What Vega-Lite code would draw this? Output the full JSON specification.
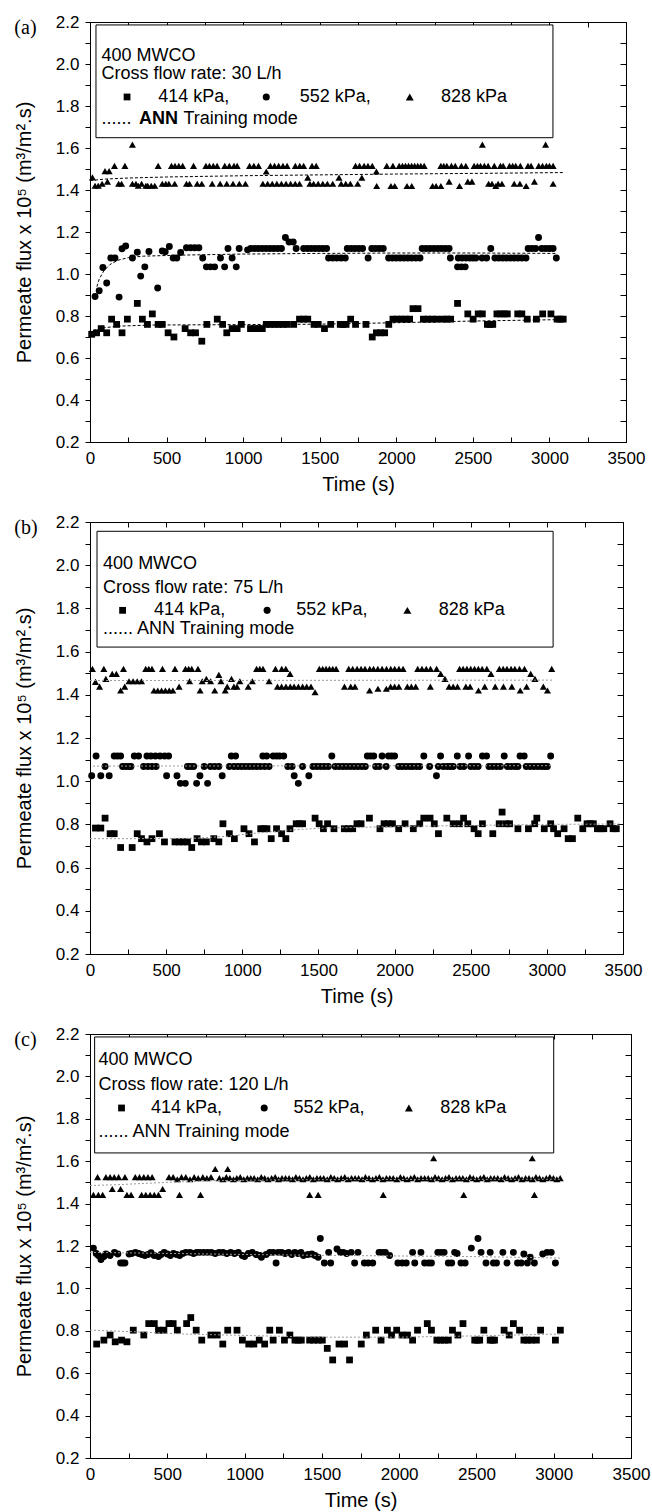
{
"$schema":"https://vega.github.io/schema/vega-lite/v6.json",
"background":"white",
"padding":{"left":13,"top":12,"right":0,"bottom":0},
"spacing":17,
"columns":1,
"align":"none",
"config":{
 "view":{"stroke":"black","strokeWidth":1},
 "axis":{"grid":false,"domainColor":"black","domainWidth":1,"tickColor":"black","tickWidth":1,"labelColor":"black","titleColor":"black","labelFont":"Liberation Sans","titleFont":"Liberation Sans","labelFontSize":17,"titleFontSize":20,"titleFontWeight":"normal","labelFlush":false,"labelOverlap":false},
 "title":{"font":"Liberation Serif","fontSize":20,"fontWeight":"normal","color":"black"},
 "text":{"font":"Liberation Sans","fontSize":18,"color":"black"}
},
"datasets":{
 "aPts":[
  {"s":"414","t":[11,43,73,109,141,174,209,244,309,342,375,407,445,472,510,548,621,657,689,730,763,831,866,893,928,961,988,1048,1075,1100,1125,1151,1178,1205,1232,1260,1287,1330,1368,1395,1422,1463,1490,1531,1572,1634,1652,1672,1702,1734,1802,1843,1870,1897,1924,1951,1978,2005,2032,2060,2087,2109,2142,2177,2205,2235,2264,2305,2330,2355,2400,2467,2502,2535,2562,2595,2612,2630,2657,2680,2705,2725,2793,2820,2855,2915,2956,3010,3050,3070,3090],
   "v":[0.713,0.72,0.74,0.72,0.785,0.76,0.72,0.785,0.86,0.785,0.76,0.81,0.76,0.76,0.72,0.70,0.74,0.72,0.72,0.68,0.76,0.785,0.76,0.72,0.74,0.74,0.76,0.74,0.74,0.74,0.74,0.76,0.76,0.76,0.76,0.76,0.76,0.76,0.785,0.785,0.785,0.76,0.76,0.74,0.76,0.76,0.76,0.76,0.785,0.76,0.76,0.70,0.72,0.72,0.72,0.76,0.785,0.785,0.785,0.785,0.785,0.835,0.835,0.785,0.785,0.785,0.785,0.785,0.785,0.785,0.86,0.81,0.785,0.81,0.81,0.76,0.76,0.76,0.81,0.81,0.81,0.81,0.81,0.81,0.785,0.785,0.81,0.81,0.785,0.785,0.785]},
  {"s":"552","t":[33,60,84,109,136,163,190,209,233,277,309,331,358,385,442,472,491,518,543,567,592,630,657,684,711,736,760,787,814,852,879,901,928,955,974,1029,1050,1075,1100,1125,1150,1175,1200,1225,1250,1276,1300,1327,1346,1395,1420,1445,1470,1495,1520,1545,1558,1585,1612,1640,1667,1680,1705,1730,1755,1780,1816,1840,1865,1890,1915,1950,1975,2000,2025,2050,2075,2100,2128,2155,2169,2195,2220,2245,2270,2295,2320,2345,2353,2400,2405,2425,2430,2450,2455,2480,2500,2520,2560,2590,2617,2644,2670,2695,2720,2745,2770,2795,2820,2847,2861,2885,2910,2929,2950,2975,3000,3024,3045],
   "v":[0.893,0.92,1.031,0.957,1.076,1.076,0.89,1.12,1.133,1.076,1.104,0.99,1.034,1.107,0.933,1.11,1.106,1.131,1.076,1.076,1.102,1.125,1.125,1.125,1.125,1.076,1.034,1.034,1.034,1.076,1.034,1.121,1.076,1.034,1.121,1.115,1.121,1.121,1.121,1.121,1.121,1.121,1.121,1.121,1.121,1.174,1.152,1.152,1.121,1.121,1.121,1.121,1.121,1.121,1.121,1.121,1.076,1.076,1.076,1.076,1.076,1.121,1.121,1.121,1.121,1.121,1.076,1.121,1.121,1.121,1.121,1.076,1.076,1.076,1.076,1.076,1.076,1.076,1.076,1.076,1.121,1.121,1.121,1.121,1.121,1.121,1.121,1.121,1.076,1.034,1.076,1.034,1.076,1.034,1.076,1.076,1.076,1.076,1.076,1.076,1.121,1.076,1.076,1.076,1.076,1.076,1.076,1.076,1.076,1.076,1.121,1.121,1.121,1.174,1.121,1.121,1.121,1.121,1.076]},
  {"s":"828","t":[16,33,54,79,98,114,125,160,187,206,228,277,277,300,315,337,365,377,400,423,445,472,495,515,532,553,555,580,605,630,650,676,700,730,757,780,798,805,830,850,880,893,910,934,940,961,975,1015,1042,1070,1100,1129,1151,1160,1178,1190,1205,1220,1232,1250,1260,1280,1287,1310,1340,1341,1368,1370,1395,1422,1436,1450,1460,1477,1490,1520,1550,1585,1626,1640,1670,1700,1734,1748,1760,1775,1790,1815,1843,1870,1872,1938,1965,1978,1990,2019,2040,2060,2070,2080,2100,2101,2120,2140,2160,2182,2237,2260,2291,2291,2310,2330,2345,2360,2385,2413,2425,2454,2467,2494,2508,2530,2550,2562,2575,2600,2603,2625,2640,2650,2665,2680,2690,2698,2739,2760,2770,2780,2807,2810,2848,2860,2880,2902,2930,2955,2975,2980,3000,3024,3024],
   "v":[1.46,1.42,1.42,1.43,1.49,1.44,1.49,1.515,1.43,1.43,1.515,1.616,1.43,1.43,1.42,1.43,1.42,1.42,1.42,1.42,1.515,1.43,1.43,1.43,1.515,1.43,1.515,1.515,1.515,1.43,1.43,1.515,1.43,1.43,1.515,1.515,1.43,1.515,1.515,1.43,1.515,1.43,1.515,1.43,1.515,1.515,1.43,1.43,1.515,1.515,1.515,1.43,1.488,1.43,1.515,1.43,1.515,1.43,1.515,1.43,1.515,1.43,1.515,1.43,1.43,1.515,1.43,1.515,1.515,1.459,1.43,1.515,1.43,1.515,1.43,1.43,1.43,1.43,1.459,1.43,1.43,1.43,1.515,1.43,1.515,1.459,1.515,1.515,1.515,1.488,1.419,1.515,1.419,1.515,1.419,1.515,1.515,1.515,1.419,1.515,1.515,1.419,1.515,1.515,1.515,1.515,1.419,1.419,1.419,1.515,1.515,1.515,1.44,1.515,1.515,1.419,1.515,1.515,1.44,1.44,1.515,1.515,1.515,1.616,1.515,1.515,1.43,1.43,1.515,1.419,1.43,1.515,1.43,1.515,1.515,1.515,1.43,1.515,1.43,1.515,1.419,1.515,1.515,1.44,1.515,1.515,1.616,1.515,1.515,1.515,1.43]}
 ],
 "aAnn":[
  {"s":"414","t":[20,100,200,400,1000,1500,2000,2500,3090],"v":[0.73,0.745,0.752,0.757,0.759,0.761,0.768,0.776,0.783]},
  {"s":"552","t":[45,60,90,130,180,250,350,600,1000,1500,2000,2500,3050],"v":[0.94,0.975,1.015,1.045,1.065,1.078,1.085,1.09,1.095,1.098,1.1,1.1,1.098]},
  {"s":"828","t":[0,100,250,500,1000,1500,2000,2500,3090],"v":[1.445,1.452,1.457,1.462,1.468,1.472,1.476,1.479,1.483]}
 ],
 "bPts":[
  {"s":"414","t":[36,71,99,132,159,201,277,310,338,374,407,456,489,558,585,612,640,668,703,731,764,813,846,873,915,948,1011,1044,1080,1121,1142,1162,1190,1225,1258,1286,1313,1354,1375,1396,1478,1505,1533,1560,1602,1670,1697,1725,1753,1780,1835,1904,1931,1958,1986,2027,2069,2123,2165,2192,2233,2261,2288,2343,2385,2426,2453,2481,2522,2549,2577,2645,2687,2706,2730,2755,2810,2879,2920,2934,2983,3025,3044,3071,3113,3140,3168,3203,3236,3264,3285,3305,3332,3353,3374,3415,3435,3456],
   "v":[0.783,0.783,0.829,0.757,0.757,0.693,0.693,0.757,0.734,0.719,0.734,0.757,0.719,0.719,0.719,0.719,0.719,0.693,0.734,0.719,0.719,0.734,0.719,0.803,0.757,0.734,0.78,0.757,0.719,0.78,0.78,0.78,0.734,0.78,0.757,0.734,0.78,0.803,0.803,0.803,0.829,0.803,0.78,0.803,0.78,0.78,0.78,0.78,0.803,0.803,0.829,0.78,0.803,0.803,0.803,0.78,0.803,0.78,0.803,0.829,0.829,0.803,0.757,0.829,0.803,0.803,0.829,0.803,0.78,0.757,0.803,0.757,0.803,0.857,0.803,0.803,0.78,0.78,0.803,0.829,0.78,0.803,0.78,0.757,0.78,0.734,0.734,0.829,0.78,0.803,0.803,0.803,0.78,0.78,0.78,0.803,0.78,0.78]},
  {"s":"552","t":[11,40,71,99,126,159,180,201,214,235,255,269,291,319,352,374,380,400,407,430,434,460,490,503,516,571,593,626,640,660,681,700,722,750,772,791,818,846,868,915,928,945,956,970,995,1020,1045,1070,1095,1120,1135,1148,1160,1176,1203,1225,1245,1272,1299,1327,1341,1368,1396,1437,1464,1490,1515,1540,1565,1588,1610,1635,1660,1685,1710,1735,1760,1785,1808,1821,1842,1863,1876,1900,1918,1945,1960,1980,2000,2027,2050,2075,2100,2120,2145,2165,2192,2230,2275,2288,2302,2320,2345,2365,2385,2412,2430,2455,2486,2500,2525,2549,2577,2604,2620,2645,2670,2695,2720,2741,2765,2790,2810,2824,2851,2865,2890,2915,2940,2965,2985,3003,3025],
   "v":[1.025,1.117,1.025,1.068,1.025,1.117,1.117,1.117,1.068,1.068,1.068,1.068,1.117,1.117,1.068,1.117,1.068,1.117,1.068,1.117,1.068,1.117,1.117,1.025,1.117,1.025,0.99,0.99,1.068,1.068,1.068,0.99,1.025,1.068,0.99,1.068,1.068,1.068,1.025,1.068,1.117,1.068,1.117,1.068,1.068,1.068,1.068,1.068,1.068,1.068,1.117,1.068,1.117,1.068,1.117,1.117,1.117,1.117,1.068,1.068,1.025,0.99,1.068,1.025,1.068,1.068,1.068,1.068,1.068,1.117,1.068,1.068,1.068,1.068,1.068,1.068,1.068,1.068,1.068,1.117,1.117,1.117,1.068,1.068,1.117,1.068,1.117,1.117,1.117,1.068,1.068,1.068,1.068,1.068,1.068,1.068,1.117,1.068,1.025,1.068,1.117,1.068,1.068,1.068,1.068,1.117,1.068,1.068,1.117,1.068,1.068,1.068,1.117,1.117,1.068,1.068,1.068,1.068,1.117,1.068,1.068,1.068,1.068,1.117,1.117,1.068,1.068,1.068,1.068,1.068,1.068,1.068,1.117]},
  {"s":"828","t":[16,36,63,91,104,146,173,201,220,228,256,283,310,338,366,386,407,420,445,470,476,495,520,544,558,585,627,648,654,668,709,723,737,764,792,819,846,860,888,901,929,945,965,984,1039,1066,1094,1115,1136,1176,1218,1231,1258,1259,1286,1287,1314,1315,1340,1368,1396,1423,1451,1478,1506,1528,1550,1572,1594,1616,1671,1699,1712,1725,1740,1754,1780,1806,1836,1837,1862,1890,1891,1918,1946,1947,1974,1975,2000,2001,2028,2029,2056,2084,2110,2139,2152,2180,2208,2235,2236,2276,2303,2331,2358,2385,2413,2427,2450,2468,2475,2496,2500,2525,2550,2551,2575,2592,2606,2633,2661,2688,2713,2715,2738,2765,2770,2790,2820,2825,2853,2867,2894,2922,2977,3004,3032],
   "v":[1.52,1.46,1.438,1.52,1.474,1.497,1.497,1.42,1.52,1.438,1.463,1.463,1.463,1.463,1.52,1.52,1.52,1.42,1.42,1.42,1.52,1.42,1.42,1.42,1.52,1.438,1.52,1.52,1.463,1.52,1.52,1.42,1.463,1.474,1.463,1.42,1.492,1.463,1.42,1.438,1.474,1.438,1.438,1.463,1.438,1.463,1.52,1.52,1.52,1.463,1.52,1.438,1.438,1.52,1.52,1.438,1.497,1.438,1.438,1.438,1.438,1.438,1.438,1.412,1.52,1.52,1.52,1.52,1.52,1.52,1.438,1.52,1.438,1.52,1.438,1.52,1.52,1.52,1.42,1.52,1.52,1.52,1.428,1.52,1.428,1.52,1.438,1.52,1.438,1.52,1.438,1.52,1.52,1.438,1.438,1.438,1.52,1.52,1.52,1.438,1.52,1.52,1.497,1.474,1.438,1.438,1.438,1.52,1.52,1.438,1.52,1.438,1.52,1.52,1.52,1.42,1.52,1.438,1.52,1.497,1.438,1.52,1.52,1.438,1.52,1.52,1.438,1.52,1.52,1.42,1.52,1.438,1.497,1.474,1.438,1.42,1.52]}
 ],
 "bAnn":[
  {"s":"414","t":[0,300,700,900,1100,1300,1500,2000,2500,3000,3480],"v":[0.734,0.734,0.736,0.745,0.76,0.773,0.782,0.79,0.795,0.8,0.802]},
  {"s":"552","t":[20,3030],"v":[1.07,1.072]},
  {"s":"828","t":[0,3040],"v":[1.466,1.468]}
 ],
 "cPts":[
  {"s":"414","t":[43,90,130,163,204,239,280,348,380,416,443,478,511,538,565,625,652,687,723,782,823,859,891,951,986,1027,1060,1095,1130,1163,1185,1225,1258,1293,1326,1346,1367,1421,1448,1476,1503,1535,1570,1611,1647,1679,1755,1788,1848,1883,1924,1951,1984,2019,2054,2087,2119,2182,2209,2244,2268,2293,2318,2345,2380,2413,2489,2505,2521,2548,2589,2603,2617,2679,2712,2739,2779,2807,2830,2855,2888,2915,3011,3043],
   "v":[0.7375,0.756,0.78,0.748,0.756,0.748,0.803,0.78,0.834,0.834,0.803,0.803,0.834,0.834,0.803,0.834,0.8625,0.803,0.756,0.78,0.78,0.7375,0.803,0.803,0.756,0.7375,0.7375,0.756,0.7375,0.803,0.756,0.803,0.756,0.78,0.756,0.756,0.756,0.756,0.756,0.756,0.756,0.717,0.6625,0.7375,0.7375,0.6625,0.7375,0.78,0.803,0.756,0.803,0.78,0.803,0.78,0.78,0.756,0.803,0.834,0.803,0.756,0.756,0.756,0.756,0.803,0.78,0.834,0.756,0.756,0.756,0.803,0.756,0.756,0.756,0.803,0.78,0.834,0.803,0.756,0.756,0.756,0.756,0.803,0.756,0.803]},
  {"s":"552","t":[22,40,54,71,90,103,130,158,180,198,212,226,253,270,294,315,335,355,375,395,415,443,460,480,500,520,540,560,580,600,620,647,670,690,710,735,760,785,810,835,860,885,910,935,960,985,1000,1025,1050,1075,1100,1109,1140,1163,1185,1204,1218,1240,1262,1285,1305,1325,1345,1365,1381,1410,1435,1455,1476,1490,1516,1544,1557,1598,1620,1639,1660,1690,1712,1734,1775,1800,1829,1870,1890,1911,1938,1992,2020,2046,2087,2101,2141,2165,2190,2209,2250,2270,2291,2318,2340,2359,2375,2400,2427,2467,2510,2530,2562,2589,2610,2630,2671,2698,2739,2766,2790,2807,2830,2848,2875,2929,2957,2984,3011],
   "v":[1.19,1.165,1.155,1.136,1.15,1.162,1.155,1.17,1.162,1.12,1.12,1.12,1.162,1.165,1.17,1.165,1.16,1.155,1.16,1.168,1.155,1.15,1.16,1.17,1.162,1.155,1.165,1.16,1.155,1.165,1.17,1.17,1.165,1.17,1.17,1.17,1.17,1.17,1.165,1.17,1.17,1.165,1.17,1.165,1.17,1.155,1.15,1.165,1.17,1.16,1.155,1.147,1.16,1.17,1.17,1.12,1.17,1.17,1.165,1.17,1.16,1.17,1.165,1.17,1.155,1.16,1.162,1.155,1.147,1.235,1.12,1.17,1.12,1.186,1.17,1.17,1.165,1.17,1.12,1.17,1.12,1.12,1.12,1.17,1.17,1.17,1.155,1.12,1.12,1.12,1.17,1.12,1.17,1.12,1.12,1.12,1.17,1.17,1.17,1.12,1.12,1.17,1.165,1.12,1.12,1.19,1.235,1.17,1.12,1.17,1.12,1.12,1.17,1.12,1.17,1.12,1.12,1.162,1.12,1.147,1.12,1.162,1.17,1.17,1.12]},
  {"s":"828","t":[22,49,54,82,103,130,144,157,185,198,226,239,266,293,320,334,348,361,375,389,402,416,443,470,511,538,565,579,592,620,647,674,700,715,730,756,783,810,891],
   "v":[1.441,1.525,1.441,1.441,1.525,1.525,1.469,1.525,1.525,1.469,1.525,1.441,1.441,1.525,1.525,1.441,1.525,1.441,1.525,1.441,1.525,1.441,1.441,1.469,1.525,1.525,1.515,1.441,1.525,1.525,1.515,1.525,1.52,1.441,1.525,1.52,1.525,1.563,1.563]},
  {"s":"828","t":[837,860,882,905,928,950,972,995,1018,1040,1062,1085,1108,1130,1152,1175,1198,1220,1242,1265,1288,1310,1332,1355,1378,1400,1422,1445,1468,1490,1512,1535,1558,1580,1602,1625,1648,1670,1692,1715,1738,1760,1782,1805,1828,1850,1872,1895,1918,1940,1962,1985,2008,2030,2052,2075,2098,2120,2142,2165,2188,2210,2232,2255,2278,2300,2322,2345,2368,2390,2412,2435,2458,2480,2502,2525,2548,2570,2592,2615,2638,2660,2682,2705,2728,2750,2772,2795,2818,2840,2862,2885,2908,2930,2952,2975,2998,3020,3042],
   "v":[1.52,1.515,1.525,1.52,1.515,1.52,1.525,1.515,1.52,1.52,1.52,1.515,1.525,1.52,1.515,1.52,1.525,1.515,1.52,1.52,1.52,1.515,1.525,1.52,1.515,1.52,1.525,1.515,1.52,1.52,1.52,1.515,1.525,1.52,1.515,1.52,1.525,1.515,1.52,1.52,1.52,1.515,1.525,1.52,1.515,1.52,1.525,1.515,1.52,1.52,1.52,1.515,1.525,1.52,1.515,1.52,1.525,1.515,1.52,1.52,1.52,1.515,1.525,1.52,1.515,1.52,1.525,1.515,1.52,1.52,1.52,1.515,1.525,1.52,1.515,1.52,1.525,1.515,1.52,1.52,1.52,1.515,1.525,1.52,1.515,1.52,1.525,1.515,1.52,1.52,1.515,1.525,1.52,1.515,1.52,1.525,1.52,1.515,1.52]},
  {"s":"828","t":[1421,1476,1897,2223,2418,2861,2875],"v":[1.441,1.441,1.441,1.614,1.441,1.614,1.441]}
 ],
 "cAnn":[
  {"s":"414","t":[0,300,600,1000,1500,2000,2500,3050],"v":[0.803,0.795,0.785,0.778,0.77,0.77,0.776,0.785]},
  {"s":"552","t":[0,500,1000,1500,2000,2500,3050],"v":[1.17,1.165,1.16,1.156,1.153,1.15,1.143]},
  {"s":"828","t":[0,200,400,600,800,1200,2000,3050],"v":[1.485,1.49,1.497,1.503,1.508,1.512,1.514,1.515]}
 ]
},
"concat":[
 {
  "width":536,"height":420,
  "title":{"text":"(a)","anchor":"start","frame":"bounds","offset":-41,"dx":0,"baseline":"alphabetic"},
  "resolve":{"axis":{"x":"independent","y":"independent"}},
  "layer":[
   {"data":{"values":[{}]},"mark":{"type":"rect","fill":"white","stroke":"black","strokeWidth":1},
    "encoding":{"x":{"datum":39,"type":"quantitative","axis":null},"x2":{"datum":3023},"y":{"datum":2.186,"type":"quantitative","axis":null},"y2":{"datum":1.649}}},
   {"data":{"name":"aPts"},"transform":[{"flatten":["t","v"]}],
    "mark":{"type":"point","filled":true,"color":"black","opacity":1,"strokeWidth":0},
    "encoding":{
     "x":{"field":"t","type":"quantitative","title":"Time (s)","scale":{"domain":[0,3500],"nice":false,"zero":false},
      "axis":{"orient":"bottom","values":[0,250,500,750,1000,1250,1500,1750,2000,2250,2500,2750,3000,3250,3500],"format":"d","labelExpr":"datum.value % 500 === 0 ? datum.label : ''","tickSize":-5,"labelPadding":13,"titlePadding":8}},
     "y":{"field":"v","type":"quantitative","title":"Permeate flux x 10⁵ (m³/m².s)","scale":{"domain":[0.2,2.2],"nice":false,"zero":false},
      "axis":{"orient":"left","values":[0.2,0.3,0.4,0.5,0.6,0.7,0.8,0.9,1.0,1.1,1.2,1.3,1.4,1.5,1.6,1.7,1.8,1.9,2.0,2.1,2.2],"labelExpr":"round(datum.value*10) % 2 === 0 ? format(datum.value, '.1f') : ''","tickSize":5,"labelPadding":6,"titlePadding":21}},
     "shape":{"field":"s","type":"nominal","scale":{"domain":["414","552","828"],"range":["square","circle","triangle-up"]},"legend":null},
     "size":{"field":"s","type":"nominal","scale":{"domain":["414","552","828"],"range":[46,50,64]},"legend":null}}},
   {"data":{"name":"aAnn"},"transform":[{"flatten":["t","v"]}],
    "mark":{"type":"line","color":"black","strokeWidth":1,"strokeDash":[3,2]},
    "encoding":{
     "x":{"field":"t","type":"quantitative","axis":{"orient":"top","values":[0,250,500,750,1000,1250,1500,1750,2000,2250,2500,2750,3000,3250,3500],"labels":false,"tickSize":-5,"title":null,"domain":false}},
     "y":{"field":"v","type":"quantitative","axis":{"orient":"right","values":[0.2,0.3,0.4,0.5,0.6,0.7,0.8,0.9,1.0,1.1,1.2,1.3,1.4,1.5,1.6,1.7,1.8,1.9,2.0,2.1,2.2],"labels":false,"tickSize":-6,"title":null,"domain":false}},
     "detail":{"field":"s","type":"nominal"}}},
   {"data":{"values":[{}]},"mark":{"type":"text","align":"left","baseline":"middle"},"encoding":{"x":{"datum":75,"type":"quantitative","axis":null},"y":{"datum":2.038,"type":"quantitative","axis":null},"text":{"value":"400 MWCO"}}},
   {"data":{"values":[{}]},"mark":{"type":"text","align":"left","baseline":"middle"},"encoding":{"x":{"datum":75,"type":"quantitative","axis":null},"y":{"datum":1.954,"type":"quantitative","axis":null},"text":{"value":"Cross flow rate: 30 L/h"}}},
   {"data":{"values":[{}]},"mark":{"type":"point","shape":"square","filled":true,"color":"black","opacity":1,"size":46,"strokeWidth":0},"encoding":{"x":{"datum":242,"type":"quantitative","axis":null},"y":{"datum":1.843,"type":"quantitative","axis":null}}},
   {"data":{"values":[{}]},"mark":{"type":"text","align":"left","baseline":"middle"},"encoding":{"x":{"datum":445,"type":"quantitative","axis":null},"y":{"datum":1.843,"type":"quantitative","axis":null},"text":{"value":"414 kPa,"}}},
   {"data":{"values":[{}]},"mark":{"type":"point","shape":"circle","filled":true,"color":"black","opacity":1,"size":50,"strokeWidth":0},"encoding":{"x":{"datum":1151,"type":"quantitative","axis":null},"y":{"datum":1.843,"type":"quantitative","axis":null}}},
   {"data":{"values":[{}]},"mark":{"type":"text","align":"left","baseline":"middle"},"encoding":{"x":{"datum":1369,"type":"quantitative","axis":null},"y":{"datum":1.843,"type":"quantitative","axis":null},"text":{"value":"552 kPa,"}}},
   {"data":{"values":[{}]},"mark":{"type":"point","shape":"triangle-up","filled":true,"color":"black","opacity":1,"size":64,"strokeWidth":0},"encoding":{"x":{"datum":2088,"type":"quantitative","axis":null},"y":{"datum":1.843,"type":"quantitative","axis":null}}},
   {"data":{"values":[{}]},"mark":{"type":"text","align":"left","baseline":"middle"},"encoding":{"x":{"datum":2292,"type":"quantitative","axis":null},"y":{"datum":1.843,"type":"quantitative","axis":null},"text":{"value":"828 kPa"}}},
   {"data":{"values":[{}]},"mark":{"type":"text","align":"left","baseline":"middle"},"encoding":{"x":{"datum":75,"type":"quantitative","axis":null},"y":{"datum":1.739,"type":"quantitative","axis":null},"text":{"value":"......"}}},
   {"data":{"values":[{}]},"mark":{"type":"text","align":"left","baseline":"middle","fontWeight":"bold"},"encoding":{"x":{"datum":320,"type":"quantitative","axis":null},"y":{"datum":1.739,"type":"quantitative","axis":null},"text":{"value":"ANN"}}},
   {"data":{"values":[{}]},"mark":{"type":"text","align":"left","baseline":"middle"},"encoding":{"x":{"datum":610,"type":"quantitative","axis":null},"y":{"datum":1.739,"type":"quantitative","axis":null},"text":{"value":"Training mode"}}}
  ]
 },
 {
  "width":533,"height":432,
  "title":{"text":"(b)","anchor":"start","frame":"bounds","offset":-41,"dx":0,"baseline":"alphabetic"},
  "resolve":{"axis":{"x":"independent","y":"independent"}},
  "layer":[
   {"data":{"values":[{}]},"mark":{"type":"rect","fill":"white","stroke":"black","strokeWidth":1},
    "encoding":{"x":{"datum":46,"type":"quantitative","axis":null},"x2":{"datum":3041},"y":{"datum":2.157,"type":"quantitative","axis":null},"y2":{"datum":1.621}}},
   {"data":{"name":"bPts"},"transform":[{"flatten":["t","v"]}],
    "mark":{"type":"point","filled":true,"color":"black","opacity":1,"strokeWidth":0},
    "encoding":{
     "x":{"field":"t","type":"quantitative","title":"Time (s)","scale":{"domain":[0,3500],"nice":false,"zero":false},
      "axis":{"orient":"bottom","values":[0,250,500,750,1000,1250,1500,1750,2000,2250,2500,2750,3000,3250,3500],"format":"d","labelExpr":"datum.value % 500 === 0 ? datum.label : ''","tickSize":-5,"labelPadding":13,"titlePadding":8}},
     "y":{"field":"v","type":"quantitative","title":"Permeate flux x 10⁵ (m³/m².s)","scale":{"domain":[0.2,2.2],"nice":false,"zero":false},
      "axis":{"orient":"left","values":[0.2,0.3,0.4,0.5,0.6,0.7,0.8,0.9,1.0,1.1,1.2,1.3,1.4,1.5,1.6,1.7,1.8,1.9,2.0,2.1,2.2],"labelExpr":"round(datum.value*10) % 2 === 0 ? format(datum.value, '.1f') : ''","tickSize":5,"labelPadding":6,"titlePadding":21}},
     "shape":{"field":"s","type":"nominal","scale":{"domain":["414","552","828"],"range":["square","circle","triangle-up"]},"legend":null},
     "size":{"field":"s","type":"nominal","scale":{"domain":["414","552","828"],"range":[46,50,64]},"legend":null}}},
   {"data":{"name":"bAnn"},"transform":[{"flatten":["t","v"]}],
    "mark":{"type":"line","color":"#999999","strokeWidth":1,"strokeDash":[2,2]},
    "encoding":{
     "x":{"field":"t","type":"quantitative","axis":{"orient":"top","values":[0,250,500,750,1000,1250,1500,1750,2000,2250,2500,2750,3000,3250,3500],"labels":false,"tickSize":-5,"title":null,"domain":false}},
     "y":{"field":"v","type":"quantitative","axis":{"orient":"right","values":[0.2,0.3,0.4,0.5,0.6,0.7,0.8,0.9,1.0,1.1,1.2,1.3,1.4,1.5,1.6,1.7,1.8,1.9,2.0,2.1,2.2],"labels":false,"tickSize":-6,"title":null,"domain":false}},
     "detail":{"field":"s","type":"nominal"}}},
   {"data":{"values":[{}]},"mark":{"type":"text","align":"left","baseline":"middle"},"encoding":{"x":{"datum":86,"type":"quantitative","axis":null},"y":{"datum":2.007,"type":"quantitative","axis":null},"text":{"value":"400 MWCO"}}},
   {"data":{"values":[{}]},"mark":{"type":"text","align":"left","baseline":"middle"},"encoding":{"x":{"datum":86,"type":"quantitative","axis":null},"y":{"datum":1.894,"type":"quantitative","axis":null},"text":{"value":"Cross flow rate: 75 L/h"}}},
   {"data":{"values":[{}]},"mark":{"type":"point","shape":"square","filled":true,"color":"black","opacity":1,"size":46,"strokeWidth":0},"encoding":{"x":{"datum":214,"type":"quantitative","axis":null},"y":{"datum":1.791,"type":"quantitative","axis":null}}},
   {"data":{"values":[{}]},"mark":{"type":"text","align":"left","baseline":"middle"},"encoding":{"x":{"datum":421,"type":"quantitative","axis":null},"y":{"datum":1.791,"type":"quantitative","axis":null},"text":{"value":"414 kPa,"}}},
   {"data":{"values":[{}]},"mark":{"type":"point","shape":"circle","filled":true,"color":"black","opacity":1,"size":50,"strokeWidth":0},"encoding":{"x":{"datum":1163,"type":"quantitative","axis":null},"y":{"datum":1.791,"type":"quantitative","axis":null}}},
   {"data":{"values":[{}]},"mark":{"type":"text","align":"left","baseline":"middle"},"encoding":{"x":{"datum":1355,"type":"quantitative","axis":null},"y":{"datum":1.791,"type":"quantitative","axis":null},"text":{"value":"552 kPa,"}}},
   {"data":{"values":[{}]},"mark":{"type":"point","shape":"triangle-up","filled":true,"color":"black","opacity":1,"size":64,"strokeWidth":0},"encoding":{"x":{"datum":2084,"type":"quantitative","axis":null},"y":{"datum":1.791,"type":"quantitative","axis":null}}},
   {"data":{"values":[{}]},"mark":{"type":"text","align":"left","baseline":"middle"},"encoding":{"x":{"datum":2290,"type":"quantitative","axis":null},"y":{"datum":1.791,"type":"quantitative","axis":null},"text":{"value":"828 kPa"}}},
   {"data":{"values":[{}]},"mark":{"type":"text","align":"left","baseline":"middle"},"encoding":{"x":{"datum":86,"type":"quantitative","axis":null},"y":{"datum":1.706,"type":"quantitative","axis":null},"text":{"value":"...... ANN Training mode"}}}
  ]
 },
 {
  "width":541,"height":424,
  "title":{"text":"(c)","anchor":"start","frame":"bounds","offset":-41,"dx":0,"baseline":"alphabetic"},
  "resolve":{"axis":{"x":"independent","y":"independent"}},
  "layer":[
   {"data":{"values":[{}]},"mark":{"type":"rect","fill":"white","stroke":"black","strokeWidth":1},
    "encoding":{"x":{"datum":30,"type":"quantitative","axis":null},"x2":{"datum":3000},"y":{"datum":2.186,"type":"quantitative","axis":null},"y2":{"datum":1.639}}},
   {"data":{"name":"cPts"},"transform":[{"flatten":["t","v"]}],
    "mark":{"type":"point","filled":true,"color":"black","opacity":1,"strokeWidth":0},
    "encoding":{
     "x":{"field":"t","type":"quantitative","title":"Time (s)","scale":{"domain":[0,3500],"nice":false,"zero":false},
      "axis":{"orient":"bottom","values":[0,250,500,750,1000,1250,1500,1750,2000,2250,2500,2750,3000,3250,3500],"format":"d","labelExpr":"datum.value % 500 === 0 ? datum.label : ''","tickSize":-5,"labelPadding":13,"titlePadding":8}},
     "y":{"field":"v","type":"quantitative","title":"Permeate flux x 10⁵ (m³/m².s)","scale":{"domain":[0.2,2.2],"nice":false,"zero":false},
      "axis":{"orient":"left","values":[0.2,0.3,0.4,0.5,0.6,0.7,0.8,0.9,1.0,1.1,1.2,1.3,1.4,1.5,1.6,1.7,1.8,1.9,2.0,2.1,2.2],"labelExpr":"round(datum.value*10) % 2 === 0 ? format(datum.value, '.1f') : ''","tickSize":5,"labelPadding":6,"titlePadding":21}},
     "shape":{"field":"s","type":"nominal","scale":{"domain":["414","552","828"],"range":["square","circle","triangle-up"]},"legend":null},
     "size":{"field":"s","type":"nominal","scale":{"domain":["414","552","828"],"range":[46,50,64]},"legend":null}}},
   {"data":{"name":"cAnn"},"transform":[{"flatten":["t","v"]}],
    "mark":{"type":"line","color":"#999999","strokeWidth":1,"strokeDash":[2,2]},
    "encoding":{
     "x":{"field":"t","type":"quantitative","axis":{"orient":"top","values":[0,250,500,750,1000,1250,1500,1750,2000,2250,2500,2750,3000,3250,3500],"labels":false,"tickSize":-5,"title":null,"domain":false}},
     "y":{"field":"v","type":"quantitative","axis":{"orient":"right","values":[0.2,0.3,0.4,0.5,0.6,0.7,0.8,0.9,1.0,1.1,1.2,1.3,1.4,1.5,1.6,1.7,1.8,1.9,2.0,2.1,2.2],"labels":false,"tickSize":-6,"title":null,"domain":false}},
     "detail":{"field":"s","type":"nominal"}}},
   {"data":{"values":[{}]},"mark":{"type":"text","align":"left","baseline":"middle"},"encoding":{"x":{"datum":55,"type":"quantitative","axis":null},"y":{"datum":2.077,"type":"quantitative","axis":null},"text":{"value":"400 MWCO"}}},
   {"data":{"values":[{}]},"mark":{"type":"text","align":"left","baseline":"middle"},"encoding":{"x":{"datum":55,"type":"quantitative","axis":null},"y":{"datum":1.959,"type":"quantitative","axis":null},"text":{"value":"Cross flow rate: 120 L/h"}}},
   {"data":{"values":[{}]},"mark":{"type":"point","shape":"square","filled":true,"color":"black","opacity":1,"size":46,"strokeWidth":0},"encoding":{"x":{"datum":204,"type":"quantitative","axis":null},"y":{"datum":1.851,"type":"quantitative","axis":null}}},
   {"data":{"values":[{}]},"mark":{"type":"text","align":"left","baseline":"middle"},"encoding":{"x":{"datum":394,"type":"quantitative","axis":null},"y":{"datum":1.851,"type":"quantitative","axis":null},"text":{"value":"414 kPa,"}}},
   {"data":{"values":[{}]},"mark":{"type":"point","shape":"circle","filled":true,"color":"black","opacity":1,"size":50,"strokeWidth":0},"encoding":{"x":{"datum":1127,"type":"quantitative","axis":null},"y":{"datum":1.851,"type":"quantitative","axis":null}}},
   {"data":{"values":[{}]},"mark":{"type":"text","align":"left","baseline":"middle"},"encoding":{"x":{"datum":1317,"type":"quantitative","axis":null},"y":{"datum":1.851,"type":"quantitative","axis":null},"text":{"value":"552 kPa,"}}},
   {"data":{"values":[{}]},"mark":{"type":"point","shape":"triangle-up","filled":true,"color":"black","opacity":1,"size":64,"strokeWidth":0},"encoding":{"x":{"datum":2063,"type":"quantitative","axis":null},"y":{"datum":1.851,"type":"quantitative","axis":null}}},
   {"data":{"values":[{}]},"mark":{"type":"text","align":"left","baseline":"middle"},"encoding":{"x":{"datum":2266,"type":"quantitative","axis":null},"y":{"datum":1.851,"type":"quantitative","axis":null},"text":{"value":"828 kPa"}}},
   {"data":{"values":[{}]},"mark":{"type":"text","align":"left","baseline":"middle"},"encoding":{"x":{"datum":55,"type":"quantitative","axis":null},"y":{"datum":1.738,"type":"quantitative","axis":null},"text":{"value":"...... ANN Training mode"}}}
  ]
 }
]
}
